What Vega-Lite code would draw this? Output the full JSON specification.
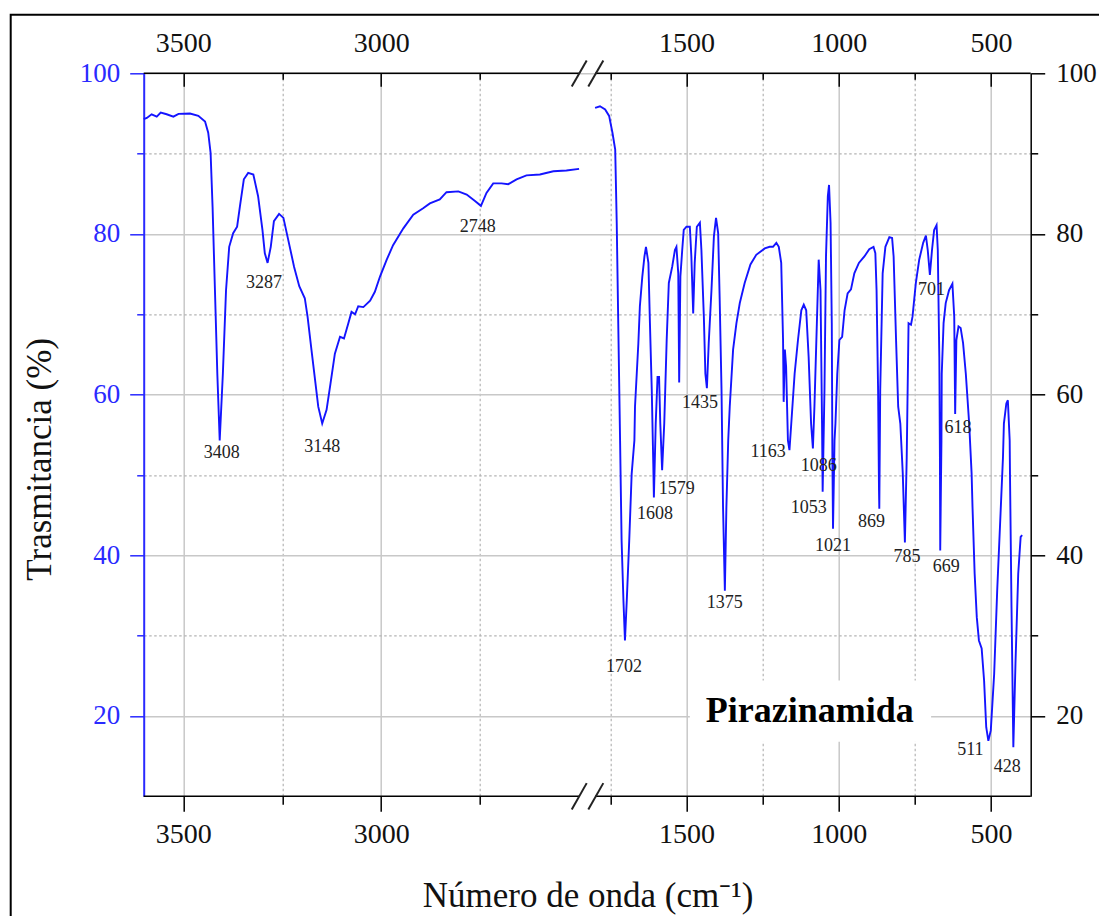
{
  "$schema": "https://vega.github.io/schema/vega-lite/v6.json",
  "width": 887,
  "height": 723,
  "autosize": {"type": "none"},
  "padding": {"left": 143.7, "top": 73.3, "right": 68.3, "bottom": 119.7},
  "background": "white",
  "config": {
    "view": {"stroke": null},
    "axis": {"labelFont": "Liberation Serif", "titleFont": "Liberation Serif", "titleFontWeight": "normal", "labelFlush": false, "labelOverlap": false}
  },
  "resolve": {"axis": {"x": "independent", "y": "independent"}},
  "datasets": {
    "spectrum": [
      {"wn": 3600, "t": 94.3, "seg": "L"}, {"wn": 3592, "t": 94.45, "seg": "L"}, {"wn": 3580, "t": 94.9, "seg": "L"}, {"wn": 3567, "t": 94.6, "seg": "L"},
      {"wn": 3557, "t": 95.1, "seg": "L"}, {"wn": 3542, "t": 94.9, "seg": "L"}, {"wn": 3525, "t": 94.6, "seg": "L"}, {"wn": 3512, "t": 94.95, "seg": "L"},
      {"wn": 3483, "t": 95.0, "seg": "L"}, {"wn": 3462, "t": 94.7, "seg": "L"}, {"wn": 3445, "t": 94.0, "seg": "L"}, {"wn": 3437, "t": 92.6, "seg": "L"},
      {"wn": 3431, "t": 90.1, "seg": "L"}, {"wn": 3426, "t": 83.4, "seg": "L"}, {"wn": 3420, "t": 73.0, "seg": "L"}, {"wn": 3414, "t": 62.6, "seg": "L"},
      {"wn": 3408, "t": 54.3, "seg": "L"}, {"wn": 3400, "t": 62.6, "seg": "L"}, {"wn": 3392, "t": 73.0, "seg": "L"}, {"wn": 3384, "t": 78.4, "seg": "L"},
      {"wn": 3374, "t": 80.1, "seg": "L"}, {"wn": 3364, "t": 80.9, "seg": "L"}, {"wn": 3357, "t": 83.4, "seg": "L"}, {"wn": 3347, "t": 86.8, "seg": "L"},
      {"wn": 3336, "t": 87.6, "seg": "L"}, {"wn": 3323, "t": 87.4, "seg": "L"}, {"wn": 3311, "t": 84.7, "seg": "L"}, {"wn": 3300, "t": 80.5, "seg": "L"},
      {"wn": 3294, "t": 77.6, "seg": "L"}, {"wn": 3287, "t": 76.4, "seg": "L"}, {"wn": 3279, "t": 78.4, "seg": "L"}, {"wn": 3271, "t": 81.6, "seg": "L"},
      {"wn": 3258, "t": 82.5, "seg": "L"}, {"wn": 3247, "t": 82.0, "seg": "L"}, {"wn": 3235, "t": 79.3, "seg": "L"}, {"wn": 3220, "t": 75.9, "seg": "L"},
      {"wn": 3207, "t": 73.5, "seg": "L"}, {"wn": 3193, "t": 72.0, "seg": "L"}, {"wn": 3186, "t": 69.7, "seg": "L"}, {"wn": 3176, "t": 65.5, "seg": "L"},
      {"wn": 3167, "t": 61.8, "seg": "L"}, {"wn": 3159, "t": 58.5, "seg": "L"}, {"wn": 3149, "t": 56.4, "seg": "L"}, {"wn": 3138, "t": 58.1, "seg": "L"},
      {"wn": 3128, "t": 61.4, "seg": "L"}, {"wn": 3117, "t": 65.1, "seg": "L"}, {"wn": 3104, "t": 67.2, "seg": "L"}, {"wn": 3094, "t": 67.0, "seg": "L"},
      {"wn": 3083, "t": 68.9, "seg": "L"}, {"wn": 3075, "t": 70.3, "seg": "L"}, {"wn": 3066, "t": 70.0, "seg": "L"}, {"wn": 3058, "t": 71.0, "seg": "L"},
      {"wn": 3045, "t": 70.9, "seg": "L"}, {"wn": 3028, "t": 71.7, "seg": "L"}, {"wn": 3016, "t": 72.8, "seg": "L"}, {"wn": 3003, "t": 74.7, "seg": "L"},
      {"wn": 2986, "t": 76.8, "seg": "L"}, {"wn": 2970, "t": 78.6, "seg": "L"}, {"wn": 2944, "t": 80.7, "seg": "L"}, {"wn": 2919, "t": 82.4, "seg": "L"},
      {"wn": 2894, "t": 83.2, "seg": "L"}, {"wn": 2877, "t": 83.8, "seg": "L"}, {"wn": 2852, "t": 84.3, "seg": "L"}, {"wn": 2835, "t": 85.2, "seg": "L"},
      {"wn": 2805, "t": 85.3, "seg": "L"}, {"wn": 2784, "t": 84.9, "seg": "L"}, {"wn": 2763, "t": 84.1, "seg": "L"}, {"wn": 2748, "t": 83.5, "seg": "L"},
      {"wn": 2734, "t": 85.1, "seg": "L"}, {"wn": 2717, "t": 86.3, "seg": "L"}, {"wn": 2696, "t": 86.3, "seg": "L"}, {"wn": 2679, "t": 86.2, "seg": "L"},
      {"wn": 2658, "t": 86.8, "seg": "L"}, {"wn": 2633, "t": 87.3, "seg": "L"}, {"wn": 2599, "t": 87.4, "seg": "L"}, {"wn": 2565, "t": 87.8, "seg": "L"},
      {"wn": 2532, "t": 87.9, "seg": "L"}, {"wn": 2500, "t": 88.1, "seg": "L"},
      {"wn": 1800, "t": 95.7, "seg": "R"}, {"wn": 1784, "t": 95.9, "seg": "R"}, {"wn": 1767, "t": 95.5, "seg": "R"}, {"wn": 1754, "t": 94.7, "seg": "R"},
      {"wn": 1743, "t": 92.6, "seg": "R"}, {"wn": 1734, "t": 90.5, "seg": "R"}, {"wn": 1729, "t": 81.4, "seg": "R"}, {"wn": 1724, "t": 68.9, "seg": "R"},
      {"wn": 1718, "t": 54.3, "seg": "R"}, {"wn": 1713, "t": 41.8, "seg": "R"}, {"wn": 1707, "t": 34.4, "seg": "R"}, {"wn": 1702, "t": 29.4, "seg": "R"},
      {"wn": 1696, "t": 34.4, "seg": "R"}, {"wn": 1688, "t": 41.8, "seg": "R"}, {"wn": 1680, "t": 50.1, "seg": "R"}, {"wn": 1671, "t": 54.3, "seg": "R"},
      {"wn": 1669, "t": 58.5, "seg": "R"}, {"wn": 1658, "t": 66.4, "seg": "R"}, {"wn": 1653, "t": 71.0, "seg": "R"}, {"wn": 1645, "t": 74.7, "seg": "R"},
      {"wn": 1638, "t": 77.2, "seg": "R"}, {"wn": 1633, "t": 78.4, "seg": "R"}, {"wn": 1625, "t": 76.4, "seg": "R"}, {"wn": 1620, "t": 68.9, "seg": "R"},
      {"wn": 1614, "t": 60.6, "seg": "R"}, {"wn": 1609, "t": 51.4, "seg": "R"}, {"wn": 1607, "t": 47.2, "seg": "R"}, {"wn": 1601, "t": 56.4, "seg": "R"},
      {"wn": 1595, "t": 62.2, "seg": "R"}, {"wn": 1590, "t": 62.2, "seg": "R"}, {"wn": 1586, "t": 56.4, "seg": "R"}, {"wn": 1580, "t": 50.6, "seg": "R"},
      {"wn": 1573, "t": 56.4, "seg": "R"}, {"wn": 1565, "t": 66.8, "seg": "R"}, {"wn": 1558, "t": 73.9, "seg": "R"}, {"wn": 1547, "t": 75.9, "seg": "R"},
      {"wn": 1538, "t": 78.0, "seg": "R"}, {"wn": 1533, "t": 78.4, "seg": "R"}, {"wn": 1527, "t": 75.1, "seg": "R"}, {"wn": 1524, "t": 61.5, "seg": "R"},
      {"wn": 1520, "t": 74.7, "seg": "R"}, {"wn": 1514, "t": 78.0, "seg": "R"}, {"wn": 1509, "t": 80.5, "seg": "R"}, {"wn": 1500, "t": 80.9, "seg": "R"},
      {"wn": 1489, "t": 80.9, "seg": "R"}, {"wn": 1484, "t": 77.2, "seg": "R"}, {"wn": 1478, "t": 70.1, "seg": "R"}, {"wn": 1473, "t": 76.4, "seg": "R"},
      {"wn": 1466, "t": 80.9, "seg": "R"}, {"wn": 1456, "t": 81.4, "seg": "R"}, {"wn": 1451, "t": 78.0, "seg": "R"}, {"wn": 1443, "t": 69.7, "seg": "R"},
      {"wn": 1438, "t": 62.6, "seg": "R"}, {"wn": 1433, "t": 60.8, "seg": "R"}, {"wn": 1427, "t": 66.4, "seg": "R"}, {"wn": 1418, "t": 73.0, "seg": "R"},
      {"wn": 1410, "t": 79.7, "seg": "R"}, {"wn": 1403, "t": 82.0, "seg": "R"}, {"wn": 1396, "t": 80.1, "seg": "R"}, {"wn": 1391, "t": 71.8, "seg": "R"},
      {"wn": 1385, "t": 60.6, "seg": "R"}, {"wn": 1380, "t": 46.0, "seg": "R"}, {"wn": 1374, "t": 35.6, "seg": "R"}, {"wn": 1369, "t": 46.0, "seg": "R"},
      {"wn": 1363, "t": 54.3, "seg": "R"}, {"wn": 1358, "t": 58.5, "seg": "R"}, {"wn": 1347, "t": 65.6, "seg": "R"}, {"wn": 1336, "t": 68.9, "seg": "R"},
      {"wn": 1325, "t": 71.4, "seg": "R"}, {"wn": 1309, "t": 73.9, "seg": "R"}, {"wn": 1290, "t": 76.2, "seg": "R"}, {"wn": 1271, "t": 77.4, "seg": "R"},
      {"wn": 1243, "t": 78.2, "seg": "R"}, {"wn": 1227, "t": 78.4, "seg": "R"}, {"wn": 1216, "t": 78.4, "seg": "R"}, {"wn": 1205, "t": 78.9, "seg": "R"},
      {"wn": 1197, "t": 78.4, "seg": "R"}, {"wn": 1189, "t": 76.4, "seg": "R"}, {"wn": 1183, "t": 66.8, "seg": "R"}, {"wn": 1181, "t": 59.1, "seg": "R"},
      {"wn": 1177, "t": 65.6, "seg": "R"}, {"wn": 1173, "t": 63.5, "seg": "R"}, {"wn": 1167, "t": 54.3, "seg": "R"}, {"wn": 1162, "t": 53.1, "seg": "R"},
      {"wn": 1156, "t": 56.4, "seg": "R"}, {"wn": 1145, "t": 62.6, "seg": "R"}, {"wn": 1134, "t": 66.8, "seg": "R"}, {"wn": 1123, "t": 70.5, "seg": "R"},
      {"wn": 1115, "t": 71.2, "seg": "R"}, {"wn": 1107, "t": 70.5, "seg": "R"}, {"wn": 1099, "t": 64.7, "seg": "R"}, {"wn": 1091, "t": 56.4, "seg": "R"},
      {"wn": 1085, "t": 53.3, "seg": "R"}, {"wn": 1080, "t": 58.5, "seg": "R"}, {"wn": 1072, "t": 68.9, "seg": "R"}, {"wn": 1066, "t": 76.8, "seg": "R"},
      {"wn": 1060, "t": 73.0, "seg": "R"}, {"wn": 1055, "t": 56.4, "seg": "R"}, {"wn": 1053, "t": 47.9, "seg": "R"}, {"wn": 1047, "t": 60.6, "seg": "R"},
      {"wn": 1042, "t": 77.2, "seg": "R"}, {"wn": 1036, "t": 84.7, "seg": "R"}, {"wn": 1032, "t": 86.1, "seg": "R"}, {"wn": 1027, "t": 81.4, "seg": "R"},
      {"wn": 1023, "t": 68.9, "seg": "R"}, {"wn": 1021, "t": 52.2, "seg": "R"}, {"wn": 1019, "t": 43.3, "seg": "R"}, {"wn": 1014, "t": 54.3, "seg": "R"},
      {"wn": 1011, "t": 56.4, "seg": "R"}, {"wn": 1005, "t": 62.6, "seg": "R"}, {"wn": 998, "t": 66.8, "seg": "R"}, {"wn": 989, "t": 67.2, "seg": "R"},
      {"wn": 981, "t": 70.5, "seg": "R"}, {"wn": 971, "t": 72.6, "seg": "R"}, {"wn": 960, "t": 73.1, "seg": "R"}, {"wn": 949, "t": 75.1, "seg": "R"},
      {"wn": 934, "t": 76.4, "seg": "R"}, {"wn": 916, "t": 77.2, "seg": "R"}, {"wn": 900, "t": 78.1, "seg": "R"}, {"wn": 886, "t": 78.4, "seg": "R"},
      {"wn": 880, "t": 77.6, "seg": "R"}, {"wn": 876, "t": 73.0, "seg": "R"}, {"wn": 871, "t": 60.6, "seg": "R"}, {"wn": 868, "t": 48.1, "seg": "R"},
      {"wn": 867, "t": 45.8, "seg": "R"}, {"wn": 864, "t": 60.6, "seg": "R"}, {"wn": 856, "t": 75.1, "seg": "R"}, {"wn": 847, "t": 78.4, "seg": "R"},
      {"wn": 834, "t": 79.6, "seg": "R"}, {"wn": 825, "t": 79.5, "seg": "R"}, {"wn": 820, "t": 77.2, "seg": "R"}, {"wn": 812, "t": 66.8, "seg": "R"},
      {"wn": 805, "t": 58.5, "seg": "R"}, {"wn": 798, "t": 56.4, "seg": "R"}, {"wn": 790, "t": 50.2, "seg": "R"}, {"wn": 783, "t": 41.6, "seg": "R"},
      {"wn": 777, "t": 52.2, "seg": "R"}, {"wn": 774, "t": 60.6, "seg": "R"}, {"wn": 771, "t": 68.9, "seg": "R"}, {"wn": 763, "t": 68.7, "seg": "R"},
      {"wn": 758, "t": 69.7, "seg": "R"}, {"wn": 747, "t": 73.9, "seg": "R"}, {"wn": 736, "t": 76.8, "seg": "R"}, {"wn": 723, "t": 78.9, "seg": "R"},
      {"wn": 714, "t": 79.8, "seg": "R"}, {"wn": 708, "t": 78.0, "seg": "R"}, {"wn": 701, "t": 74.9, "seg": "R"}, {"wn": 694, "t": 78.0, "seg": "R"},
      {"wn": 687, "t": 80.5, "seg": "R"}, {"wn": 679, "t": 81.1, "seg": "R"}, {"wn": 675, "t": 78.0, "seg": "R"}, {"wn": 670, "t": 64.7, "seg": "R"},
      {"wn": 668, "t": 52.2, "seg": "R"}, {"wn": 667, "t": 40.6, "seg": "R"}, {"wn": 663, "t": 54.3, "seg": "R"}, {"wn": 662, "t": 62.6, "seg": "R"},
      {"wn": 656, "t": 68.9, "seg": "R"}, {"wn": 649, "t": 71.4, "seg": "R"}, {"wn": 638, "t": 73.0, "seg": "R"}, {"wn": 627, "t": 73.8, "seg": "R"},
      {"wn": 621, "t": 69.7, "seg": "R"}, {"wn": 618, "t": 57.6, "seg": "R"}, {"wn": 614, "t": 66.8, "seg": "R"}, {"wn": 607, "t": 68.5, "seg": "R"},
      {"wn": 600, "t": 68.3, "seg": "R"}, {"wn": 592, "t": 66.4, "seg": "R"}, {"wn": 583, "t": 62.6, "seg": "R"}, {"wn": 572, "t": 56.4, "seg": "R"},
      {"wn": 564, "t": 50.2, "seg": "R"}, {"wn": 561, "t": 46.0, "seg": "R"}, {"wn": 554, "t": 37.7, "seg": "R"}, {"wn": 547, "t": 32.3, "seg": "R"},
      {"wn": 540, "t": 29.4, "seg": "R"}, {"wn": 531, "t": 28.4, "seg": "R"}, {"wn": 523, "t": 24.4, "seg": "R"}, {"wn": 516, "t": 18.6, "seg": "R"},
      {"wn": 509, "t": 16.9, "seg": "R"}, {"wn": 501, "t": 18.2, "seg": "R"}, {"wn": 490, "t": 25.2, "seg": "R"}, {"wn": 480, "t": 35.6, "seg": "R"},
      {"wn": 469, "t": 45.2, "seg": "R"}, {"wn": 461, "t": 52.2, "seg": "R"}, {"wn": 458, "t": 56.4, "seg": "R"}, {"wn": 450, "t": 58.9, "seg": "R"},
      {"wn": 445, "t": 59.3, "seg": "R"}, {"wn": 439, "t": 54.3, "seg": "R"}, {"wn": 438, "t": 50.1, "seg": "R"}, {"wn": 433, "t": 33.5, "seg": "R"},
      {"wn": 427, "t": 16.1, "seg": "R"}, {"wn": 420, "t": 26.5, "seg": "R"}, {"wn": 411, "t": 37.7, "seg": "R"}, {"wn": 403, "t": 42.3, "seg": "R"},
      {"wn": 398, "t": 42.5, "seg": "R"}
    ],
    "peaks": [
      {"wn": 3403, "t": 52.7, "label": "3408"}, {"wn": 3296, "t": 73.9, "label": "3287"}, {"wn": 3149, "t": 53.5, "label": "3148"},
      {"wn": 2756, "t": 80.9, "label": "2748"}, {"wn": 1705, "t": 26.1, "label": "1702"}, {"wn": 1603, "t": 45.2, "label": "1608"},
      {"wn": 1532, "t": 48.2, "label": "1579"}, {"wn": 1456, "t": 59.0, "label": "1435"}, {"wn": 1374, "t": 34.1, "label": "1375"},
      {"wn": 1232, "t": 52.8, "label": "1163"}, {"wn": 1066, "t": 51.1, "label": "1086"}, {"wn": 1099, "t": 45.9, "label": "1053"},
      {"wn": 1019, "t": 41.1, "label": "1021"}, {"wn": 893, "t": 44.1, "label": "869"}, {"wn": 776, "t": 39.8, "label": "785"},
      {"wn": 696, "t": 73.0, "label": "701"}, {"wn": 647, "t": 38.6, "label": "669"}, {"wn": 609, "t": 55.9, "label": "618"},
      {"wn": 568, "t": 15.8, "label": "511"}, {"wn": 447, "t": 13.7, "label": "428"}
    ]
  },
  "layer": [
    {
      "data": {"values": [{}]},
      "mark": {"type": "rect", "filled": false, "stroke": "#000000", "strokeWidth": 2},
      "encoding": {
        "x": {"datum": 3936, "type": "quantitative", "scale": {"domain": [3600, 2500, 1800, 370], "range": [0, 435.4, 451.4, 887], "nice": false, "zero": false}, "axis": null},
        "x2": {"datum": 0},
        "y": {"datum": 107.3, "type": "quantitative", "scale": {"domain": [10, 100], "nice": false, "zero": false}, "axis": null},
        "y2": {"datum": -20}
      }
    },
    {
      "data": {"values": [{}]},
      "mark": {"type": "rect", "fill": "white", "stroke": null},
      "encoding": {
        "x": {"datum": 1489, "type": "quantitative", "axis": null},
        "x2": {"datum": 697},
        "y": {"datum": 16.8, "type": "quantitative", "axis": null},
        "y2": {"datum": 24.4}
      }
    },
    {
      "data": {"name": "spectrum"},
      "mark": {"type": "line", "color": "#1414ff", "strokeWidth": 1.9, "interpolate": "linear"},
      "encoding": {
        "x": {
          "field": "wn", "type": "quantitative",
          "axis": {"orient": "bottom", "values": [3500, 3000, 1500, 1000, 500], "format": "d", "domain": false,
            "tickSize": 15, "tickColor": "#000000", "tickWidth": 1.5,
            "labelFontSize": 28, "labelColor": "#111111", "labelBaseline": "alphabetic", "labelPadding": 31,
            "grid": true, "gridColor": "#c8c8c8", "gridWidth": 1.5,
            "title": "Número de onda (cm⁻¹)", "titleFontSize": 35, "titleColor": "#111111",
            "titleX": 443.8, "titleY": 110.5, "titleBaseline": "alphabetic", "titleAlign": "center"}
        },
        "y": {
          "field": "t", "type": "quantitative",
          "axis": {"orient": "left", "values": [20, 40, 60, 80, 100], "domain": true, "domainColor": "#2a2aff", "domainWidth": 2,
            "tickSize": 14, "tickColor": "#2a2aff", "tickWidth": 1.5,
            "labelFontSize": 27, "labelColor": "#2a2aff", "labelPadding": 10,
            "grid": true, "gridColor": "#c8c8c8", "gridWidth": 1.5,
            "title": "Trasmitancia (%)", "titleFontSize": 35, "titleColor": "#111111",
            "titleX": -93.7, "titleY": 385.5, "titleAngle": -90, "titleBaseline": "alphabetic", "titleAlign": "center"}
        },
        "detail": {"field": "seg", "type": "nominal"}
      }
    },
    {
      "data": {"name": "peaks"},
      "mark": {"type": "text", "font": "Liberation Serif", "fontSize": 18, "color": "#222222", "align": "center", "baseline": "middle"},
      "encoding": {
        "x": {
          "field": "wn", "type": "quantitative",
          "axis": {"orient": "top", "values": [3500, 3000, 1500, 1000, 500], "format": "d", "domain": false,
            "tickSize": -13, "tickColor": "#000000", "tickWidth": 1.5,
            "labelFontSize": 28, "labelColor": "#111111", "labelBaseline": "alphabetic", "labelPadding": 35,
            "grid": false, "title": null}
        },
        "y": {
          "field": "t", "type": "quantitative",
          "axis": {"orient": "right", "values": [20, 40, 60, 80, 100], "domain": true, "domainColor": "#000000", "domainWidth": 1.5,
            "tickSize": 14, "tickColor": "#000000", "tickWidth": 1.5,
            "labelFontSize": 27, "labelColor": "#111111", "labelPadding": 11,
            "grid": false, "title": null}
        },
        "text": {"field": "label", "type": "nominal"}
      }
    },
    {
      "data": {"values": [{"name": "Pirazinamida"}]},
      "mark": {"type": "text", "font": "Liberation Serif", "fontSize": 36, "fontWeight": "bold", "color": "#000000", "align": "center", "baseline": "alphabetic"},
      "encoding": {
        "x": {
          "datum": 1095, "type": "quantitative",
          "axis": {"orient": "bottom", "values": [3250, 2750, 1750, 1250, 750], "domain": false, "labels": false,
            "tickSize": 8, "tickColor": "#000000", "tickWidth": 1.5,
            "grid": true, "gridColor": "#b4b4b4", "gridWidth": 1.2, "gridDash": [2.5, 2.5], "title": null}
        },
        "y": {
          "datum": 19.24, "type": "quantitative",
          "axis": {"orient": "left", "values": [30, 50, 70, 90], "domain": false, "labels": false,
            "tickSize": 7, "tickColor": "#2a2aff", "tickWidth": 1.5,
            "grid": true, "gridColor": "#b4b4b4", "gridWidth": 1.2, "gridDash": [2.5, 2.5], "title": null}
        },
        "text": {"field": "name", "type": "nominal"}
      }
    },
    {
      "data": {"values": [{}]},
      "mark": {"type": "rule", "color": "#000000", "strokeWidth": 1.5},
      "encoding": {
        "x": {
          "datum": 3600, "type": "quantitative",
          "axis": {"orient": "top", "values": [3250, 2750, 1750, 1250, 750], "domain": false, "labels": false,
            "tickSize": -6, "tickColor": "#000000", "tickWidth": 1.5, "grid": false, "title": null}
        },
        "x2": {"datum": 2500},
        "y": {
          "datum": 100, "type": "quantitative",
          "axis": {"orient": "right", "values": [30, 50, 70, 90], "domain": false, "labels": false,
            "tickSize": 7, "tickColor": "#000000", "tickWidth": 1.5, "grid": false, "title": null}
        }
      }
    },
    {
      "data": {"values": [{}]},
      "mark": {"type": "rule", "color": "#000000", "strokeWidth": 1.5},
      "encoding": {
        "x": {"datum": 1800, "type": "quantitative", "axis": null},
        "x2": {"datum": 370},
        "y": {"datum": 100, "type": "quantitative", "axis": null}
      }
    },
    {
      "data": {"values": [{}]},
      "mark": {"type": "rule", "color": "#000000", "strokeWidth": 1.5},
      "encoding": {
        "x": {"datum": 3600, "type": "quantitative", "axis": null},
        "x2": {"datum": 2500},
        "y": {"datum": 10, "type": "quantitative", "axis": null}
      }
    },
    {
      "data": {"values": [{}]},
      "mark": {"type": "rule", "color": "#000000", "strokeWidth": 1.5},
      "encoding": {
        "x": {"datum": 1800, "type": "quantitative", "axis": null},
        "x2": {"datum": 370},
        "y": {"datum": 10, "type": "quantitative", "axis": null}
      }
    },
    {
      "data": {"values": [{}]},
      "mark": {"type": "rule", "color": "#222222", "strokeWidth": 2},
      "encoding": {
        "x": {"datum": 2518.6, "type": "quantitative", "axis": null},
        "x2": {"datum": 2167.5},
        "y": {"datum": 98.36, "type": "quantitative", "axis": null},
        "y2": {"datum": 101.6}
      }
    },
    {
      "data": {"values": [{}]},
      "mark": {"type": "rule", "color": "#222222", "strokeWidth": 2},
      "encoding": {
        "x": {"datum": 2097.5, "type": "quantitative", "axis": null},
        "x2": {"datum": 1773},
        "y": {"datum": 98.36, "type": "quantitative", "axis": null},
        "y2": {"datum": 101.6}
      }
    },
    {
      "data": {"values": [{}]},
      "mark": {"type": "rule", "color": "#222222", "strokeWidth": 2},
      "encoding": {
        "x": {"datum": 2518.6, "type": "quantitative", "axis": null},
        "x2": {"datum": 2167.5},
        "y": {"datum": 8.36, "type": "quantitative", "axis": null},
        "y2": {"datum": 11.64}
      }
    },
    {
      "data": {"values": [{}]},
      "mark": {"type": "rule", "color": "#222222", "strokeWidth": 2},
      "encoding": {
        "x": {"datum": 2097.5, "type": "quantitative", "axis": null},
        "x2": {"datum": 1773},
        "y": {"datum": 8.36, "type": "quantitative", "axis": null},
        "y2": {"datum": 11.64}
      }
    }
  ]
}
